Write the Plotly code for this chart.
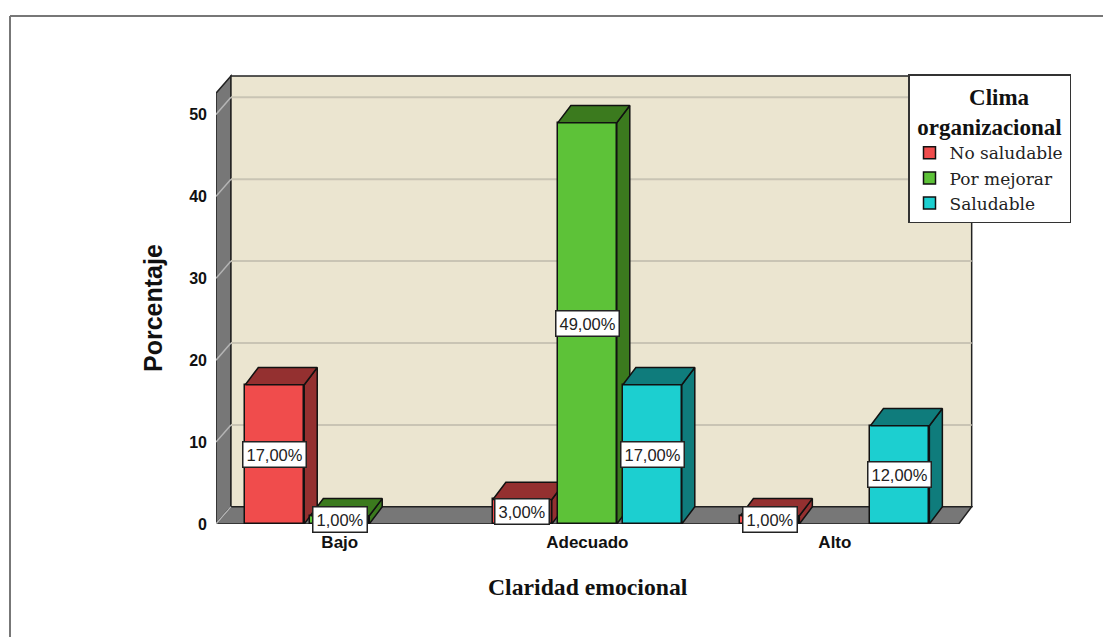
import plotly.graph_objects as go

categories = ["Bajo", "Adecuado", "Alto"]
series_names = ["No saludable", "Por mejorar", "Saludable"]
no_saludable = [17, 3, 1]
por_mejorar = [1, 49, None]
saludable = [None, 17, 12]
y_ticks = [0, 10, 20, 30, 40, 50]

series_values = [no_saludable, por_mejorar, saludable]
front_colors = ["#f04c4c", "#5dc238", "#1ccfd0"]
dark_colors = ["#943030", "#3b7a1e", "#0f7c7c"]

W, H = 1103, 637
L, R, T, B = 216, 127, 70, 113
plot_w, plot_h = W - L - R, H - T - B
X_RANGE = [-0.5, 2.57]
Y_RANGE = [0, 55.43]
BAR_W = 0.238
OFFSET = 0.2626
DX = 0.0525   # depth in category units
DY = 2.1      # depth in value units
WALL_X = -0.5 + DX * 1.15
WALL_TOP = 52.6 + DY
FLOOR_RIGHT = 2.5

fig = go.Figure()


def cat_pos(ci, si):
    return ci + (si - 1) * OFFSET


# one overlaid axis pair per series so that each series paints over the one before
for si, vals in enumerate(series_values):
    xa = "x" if si == 0 else f"x{si + 1}"
    ya = "y" if si == 0 else f"y{si + 1}"
    xs = [cat_pos(ci, si) if v is not None else None for ci, v in enumerate(vals)]
    fig.add_trace(go.Bar(
        x=xs, y=vals, width=BAR_W, name=series_names[si], xaxis=xa, yaxis=ya,
        marker=dict(color=front_colors[si], line=dict(color="#111111", width=1.5)),
        hoverinfo="skip",
    ))
    sx, sy, tx, ty = [], [], [], []
    for ci, v in enumerate(vals):
        if v is None:
            continue
        x1 = cat_pos(ci, si) - BAR_W / 2
        x2 = cat_pos(ci, si) + BAR_W / 2
        sx += [x2, x2 + DX, x2 + DX, x2, x2, None]
        sy += [0, DY, v + DY, v, 0, None]
        tx += [x1, x1 + DX, x2 + DX, x2, x1, None]
        ty += [v, v + DY, v + DY, v, v, None]
    for px, py in ((sx, sy), (tx, ty)):
        fig.add_trace(go.Scatter(
            x=px, y=py, mode="lines", fill="toself", fillcolor=dark_colors[si],
            xaxis=xa, yaxis=ya,
            line=dict(color="#111111", width=1.5), showlegend=False, hoverinfo="skip",
        ))

annotations = []
for si, vals in enumerate(series_values):
    for ci, v in enumerate(vals):
        if v is None:
            continue
        annotations.append(dict(
            x=cat_pos(ci, si), y=v / 2, xref="x", yref="y", showarrow=False,
            text=f"{v},00%", font=dict(family="Liberation Sans", size=16.5, color="#222222"),
            bgcolor="white", bordercolor="#222222", borderwidth=1.5, borderpad=3,
        ))

annotations.append(dict(
    x=(153 - L) / plot_w, y=(H - B - 308) / plot_h, xref="paper", yref="paper", showarrow=False, textangle=-90,
    xanchor="center", yanchor="middle",
    text="<b>Porcentaje</b>", font=dict(family="Liberation Sans", size=25, color="#111111"),
))
annotations.append(dict(
    x=(587.5 - L) / plot_w, y=(H - B - 587) / plot_h, xref="paper", yref="paper", showarrow=False,
    xanchor="center", yanchor="middle",
    text="<b>Claridad emocional</b>", font=dict(family="Liberation Serif", size=23.7, color="#111111"),
))

GREY = "#777777"
EDGE = "#222222"
shapes = [
    dict(type="path", layer="below", xref="x", yref="y", fillcolor=GREY, line=dict(color=EDGE, width=1.5),
         path=f"M -0.5 0 L {WALL_X} {DY} L {WALL_X} {WALL_TOP} L -0.5 {WALL_TOP - DY} Z"),
    dict(type="rect", layer="below", xref="x", yref="y", fillcolor="#ebe5d0", line=dict(color=EDGE, width=1.5),
         x0=WALL_X, x1=FLOOR_RIGHT + DX, y0=DY, y1=WALL_TOP),
    dict(type="path", layer="below", xref="x", yref="y", fillcolor=GREY, line=dict(color=EDGE, width=1.5),
         path=f"M -0.5 0 L {FLOOR_RIGHT} 0 L {FLOOR_RIGHT + DX} {DY} L {WALL_X} {DY} Z"),
]
for t in y_ticks[1:]:
    shapes.append(dict(type="line", layer="below", xref="x", yref="y", x0=WALL_X, x1=FLOOR_RIGHT + DX,
                       y0=t + DY, y1=t + DY, line=dict(color="#c9c4b4", width=2)))
for t in y_ticks:
    shapes.append(dict(type="line", layer="below", xref="x", yref="y", x0=-0.5, x1=WALL_X,
                       y0=t, y1=t + DY, line=dict(color="#b5b5b5", width=1.5)))
# outer frame
shapes.append(dict(type="line", xref="paper", yref="paper", x0=(10 - L) / plot_w, x1=(W - L) / plot_w,
                   y0=(H - B - 16) / plot_h, y1=(H - B - 16) / plot_h, line=dict(color="#777777", width=2)))
shapes.append(dict(type="line", xref="paper", yref="paper", x0=(10 - L) / plot_w, x1=(10 - L) / plot_w,
                   y0=(H - B - 16) / plot_h, y1=(H - B - H) / plot_h, line=dict(color="#777777", width=2)))

hidden_axis = dict(range=X_RANGE, showgrid=False, zeroline=False, showline=False, ticks="",
                   showticklabels=False, overlaying="x")
hidden_yaxis = dict(range=Y_RANGE, showgrid=False, zeroline=False, showline=False, ticks="",
                    showticklabels=False, overlaying="y")

fig.update_layout(
    width=W, height=H, margin=dict(l=L, r=R, t=T, b=B, autoexpand=False),
    paper_bgcolor="white", plot_bgcolor="rgba(0,0,0,0)",
    barmode="overlay", bargap=0,
    xaxis=dict(range=X_RANGE, tickmode="array", tickvals=[0, 1, 2], ticktext=[f"<b>{c}</b>" for c in categories],
               showgrid=False, zeroline=False, showline=False, ticks="",
               tickfont=dict(family="Liberation Sans", size=17, color="#111111"), ticklabelstandoff=6),
    yaxis=dict(range=Y_RANGE, tickmode="array", tickvals=y_ticks, ticktext=[f"<b>{t}</b>" for t in y_ticks],
               showgrid=False, zeroline=False, showline=False, ticks="", ticklabelstandoff=8,
               tickfont=dict(family="Liberation Sans", size=16, color="#111111")),
    xaxis2=hidden_axis, xaxis3=hidden_axis,
    yaxis2=hidden_yaxis, yaxis3=hidden_yaxis,
    legend=dict(
        x=(1071 - L) / plot_w, y=(H - B - 74) / plot_h, xanchor="right", yanchor="top",
        bgcolor="white", bordercolor="#333333", borderwidth=1.5,
        font=dict(family="DejaVu Serif", size=17, color="#222222"),
        title=dict(text="<b>\u00a0\u00a0\u00a0\u00a0\u00a0\u00a0\u00a0\u00a0\u00a0\u00a0Clima<br>\u00a0organizacional\u00a0</b>", side="top center",
                   font=dict(family="Liberation Serif", size=23, color="#111111")),
        itemwidth=30, traceorder="normal",
    ),
    annotations=annotations, shapes=shapes, showlegend=True,
)

fig.write_html("out.html", post_script="document.body.style.margin='0';", config={"displayModeBar": False})
